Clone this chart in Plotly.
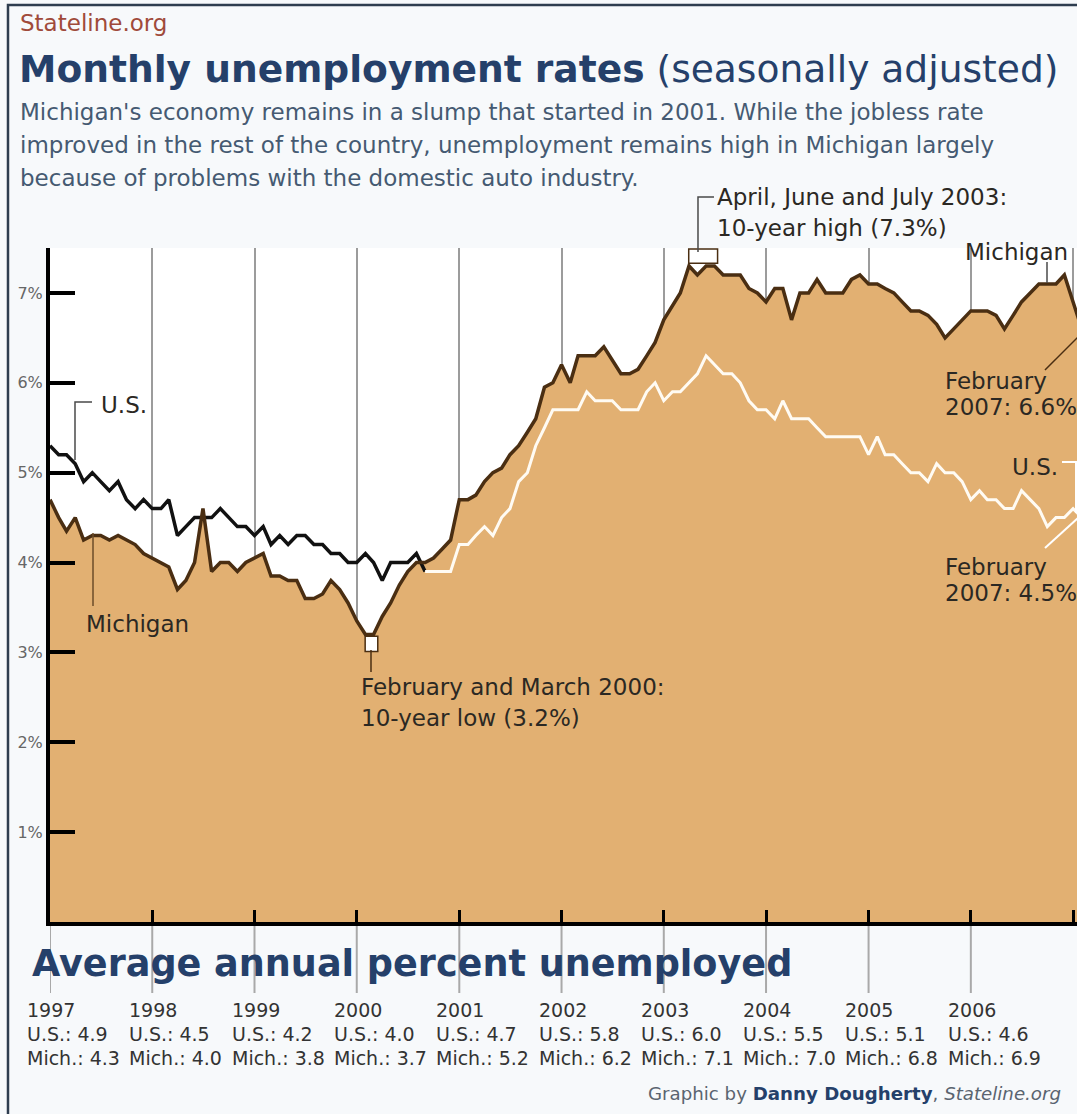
import pandas as pd
import plotly.graph_objects as go

# ---------------- data ----------------
months = pd.date_range("1997-01-01", "2007-02-01", freq="MS")

us_rate = [
    5.3, 5.2, 5.2, 5.1, 4.9, 5.0, 4.9, 4.8, 4.9, 4.7, 4.6, 4.7,   # 1997
    4.6, 4.6, 4.7, 4.3, 4.4, 4.5, 4.5, 4.5, 4.6, 4.5, 4.4, 4.4,   # 1998
    4.3, 4.4, 4.2, 4.3, 4.2, 4.3, 4.3, 4.2, 4.2, 4.1, 4.1, 4.0,   # 1999
    4.0, 4.1, 4.0, 3.8, 4.0, 4.0, 4.0, 4.1, 3.9, 3.9, 3.9, 3.9,   # 2000
    4.2, 4.2, 4.3, 4.4, 4.3, 4.5, 4.6, 4.9, 5.0, 5.3, 5.5, 5.7,   # 2001
    5.7, 5.7, 5.7, 5.9, 5.8, 5.8, 5.8, 5.7, 5.7, 5.7, 5.9, 6.0,   # 2002
    5.8, 5.9, 5.9, 6.0, 6.1, 6.3, 6.2, 6.1, 6.1, 6.0, 5.8, 5.7,   # 2003
    5.7, 5.6, 5.8, 5.6, 5.6, 5.6, 5.5, 5.4, 5.4, 5.4, 5.4, 5.4,   # 2004
    5.2, 5.4, 5.2, 5.2, 5.1, 5.0, 5.0, 4.9, 5.1, 5.0, 5.0, 4.9,   # 2005
    4.7, 4.8, 4.7, 4.7, 4.6, 4.6, 4.8, 4.7, 4.6, 4.4, 4.5, 4.5,   # 2006
    4.6, 4.5,                                                     # 2007
]

mich_rate = [
    4.7, 4.5, 4.35, 4.5, 4.25, 4.3, 4.3, 4.25, 4.3, 4.25, 4.2, 4.1,    # 1997
    4.05, 4.0, 3.95, 3.7, 3.8, 4.0, 4.6, 3.9, 4.0, 4.0, 3.9, 4.0,      # 1998
    4.05, 4.1, 3.85, 3.85, 3.8, 3.8, 3.6, 3.6, 3.65, 3.8, 3.7, 3.55,   # 1999
    3.35, 3.2, 3.2, 3.4, 3.55, 3.75, 3.9, 4.0, 4.0, 4.05, 4.15, 4.25,  # 2000
    4.7, 4.7, 4.75, 4.9, 5.0, 5.05, 5.2, 5.3, 5.45, 5.6, 5.95, 6.0,    # 2001
    6.2, 6.0, 6.3, 6.3, 6.3, 6.4, 6.25, 6.1, 6.1, 6.15, 6.3, 6.45,     # 2002
    6.7, 6.85, 7.0, 7.3, 7.2, 7.3, 7.3, 7.2, 7.2, 7.2, 7.05, 7.0,      # 2003
    6.9, 7.05, 7.05, 6.7, 7.0, 7.0, 7.15, 7.0, 7.0, 7.0, 7.15, 7.2,    # 2004
    7.1, 7.1, 7.05, 7.0, 6.9, 6.8, 6.8, 6.75, 6.65, 6.5, 6.6, 6.7,     # 2005
    6.8, 6.8, 6.8, 6.75, 6.6, 6.75, 6.9, 7.0, 7.1, 7.1, 7.1, 7.2,      # 2006
    6.9, 6.6,                                                          # 2007
]

avg_years = [1997, 1998, 1999, 2000, 2001, 2002, 2003, 2004, 2005, 2006]
avg_us = [4.9, 4.5, 4.2, 4.0, 4.7, 5.8, 6.0, 5.5, 5.1, 4.6]
avg_mich = [4.3, 4.0, 3.8, 3.7, 5.2, 6.2, 7.1, 7.0, 6.8, 6.9]

y_ticks = [1, 2, 3, 4, 5, 6, 7]
y_tick_text = [f"{v}%" for v in y_ticks]

# ---------------- style / layout helpers ----------------
FONT = "DejaVu Sans"
W, H = 1077, 1114
L, R, T, B = 50, 0, 248, 192
PW, PH = W - L - R, H - T - B

TAN = "#e2b072"
BROWN = "#4a2e12"
NAVY = "#25406a"
TXT = "#2b2823"
LBL = 23


def px(x):
    return (x - L) / PW


def py(y):
    return (H - B - y) / PH


# US line is black above the Michigan area and white once it runs inside it
k = next(i for i in range(len(us_rate))
         if all(u < m for u, m in zip(us_rate[i:], mich_rate[i:])))
us_black = [u if i <= k else None for i, u in enumerate(us_rate)]
us_white = [u if i >= k else None for i, u in enumerate(us_rate)]

fig = go.Figure()
fig.add_trace(go.Scatter(x=months, y=mich_rate, mode="lines", fill="tozeroy",
                         fillcolor=TAN, line=dict(width=0), hoverinfo="skip",
                         showlegend=False))
fig.add_trace(go.Scatter(x=months, y=us_black, mode="lines",
                         line=dict(color="#111111", width=3.5),
                         showlegend=False, name="U.S."))
fig.add_trace(go.Scatter(x=months, y=us_white, mode="lines",
                         line=dict(color="#fffbf3", width=3),
                         showlegend=False, name="U.S."))
fig.add_trace(go.Scatter(x=months, y=mich_rate, mode="lines",
                         line=dict(color=BROWN, width=3.5),
                         showlegend=False, name="Michigan"))

shapes = []
# grey year lines below the axis
for yr in avg_years:
    d = f"{yr}-01-01"
    shapes.append(dict(type="line", xref="x", yref="paper", x0=d, x1=d,
                       y0=py(926), y1=py(993),
                       line=dict(color="#a9a9a9", width=2), layer="below"))

# box around the 10-year low
lo = min(mich_rate)
lo_idx = [i for i, v in enumerate(mich_rate) if v == lo]
shapes.append(dict(type="rect", xref="x", yref="y",
                   x0=months[lo_idx[0]] - pd.Timedelta(days=1),
                   x1=months[lo_idx[-1]] + pd.Timedelta(days=15),
                   y0=lo - 0.19, y1=lo - 0.02,
                   fillcolor="white", line=dict(color=BROWN, width=1.5),
                   layer="above"))
# box around the 10-year high
hi = max(mich_rate)
hi_idx = [i for i, v in enumerate(mich_rate) if v == hi]
shapes.append(dict(type="rect", xref="x", yref="y",
                   x0=months[hi_idx[0]] - pd.Timedelta(days=1),
                   x1=months[hi_idx[-1]] + pd.Timedelta(days=11),
                   y0=hi + 0.03, y1=hi + 0.19,
                   fillcolor="white", line=dict(color=BROWN, width=1.5),
                   layer="above"))


def path(points, color, width=1.5):
    d = "M " + " L ".join(f"{px(a):.5f},{py(b):.5f}" for a, b in points)
    return dict(type="path", xref="paper", yref="paper", path=d,
                line=dict(color=color, width=width), layer="above")


shapes += [
    path([(92, 402), (75, 402), (75, 460)], "#4a4a4a"),          # U.S. left
    path([(93, 533), (93, 606)], "#6b4d2a"),                     # Michigan left
    path([(371, 650), (371, 672)], BROWN),                       # low leader
    path([(714, 197), (698, 197), (698, 252)], "#4a4a4a"),       # high bracket
    path([(1047, 262), (1047, 283)], "#4a4a4a"),                 # Michigan right
    path([(1045, 370), (1078, 337)], BROWN),                     # Feb 6.6 leader
    path([(1062, 462), (1076, 462), (1076, 513)], "white", 2),   # U.S. right
    path([(1045, 548), (1078, 518)], "white", 2),                # Feb 4.5 leader
    path([(8, 1120), (8, 5), (1085, 5)], "#2e3d4f", 2.5),        # frame
]


def note(x, y, text, size=LBL, color=TXT, **kw):
    return dict(xref="paper", yref="paper", x=px(x), y=py(y), text=text,
                showarrow=False, xanchor="left", yanchor="middle",
                font=dict(family=FONT, size=size, color=color), **kw)


annotations = [
    note(18, 23, "Stateline.org", 23, "#a04a3a"),
    note(17, 69, "<b>Monthly unemployment rates</b> (seasonally adjusted)",
         37.6, NAVY),
    note(18, 112, "Michigan's economy remains in a slump that started in 2001. "
                  "While the jobless rate", 23, "#455a72"),
    note(18, 145, "improved in the rest of the country, unemployment remains "
                  "high in Michigan largely", 23, "#455a72"),
    note(18, 178, "because of problems with the domestic auto industry.",
         23, "#455a72"),
    note(99, 405, "U.S."),
    note(84, 624, "Michigan"),
    note(359, 687, "February and March 2000:"),
    note(359, 718, "10-year low (3.2%)"),
    note(715, 197, "April, June and July 2003:"),
    note(715, 228, "10-year high (7.3%)"),
    note(963, 252, "Michigan"),
    note(943, 381, "February"),
    note(943, 407, "2007: 6.6%"),
    note(1010, 467, "U.S."),
    note(943, 567, "February"),
    note(943, 593, "2007: 4.5%"),
    note(30, 963, "<b>Average annual percent unemployed</b>", 36.6, NAVY),
    note(646, 1093,
         'Graphic by <b><span style="color:#25406a">Danny Dougherty</span></b>, '
         '<i>Stateline.org</i>', 18.2, "#5a6470"),
]

for j, yr in enumerate(avg_years):
    x0 = 25 + 102.3 * j
    annotations.append(note(x0, 1010, f"{yr}", 19, "#333333"))
    annotations.append(note(x0, 1034, f"U.S.: {avg_us[j]:.1f}", 19, "#333333"))
    annotations.append(note(x0, 1058, f"Mich.: {avg_mich[j]:.1f}", 19, "#333333"))

fig.update_layout(
    width=W, height=H,
    margin=dict(l=L, r=R, t=T, b=B, pad=0),
    paper_bgcolor="#f7f9fb",
    plot_bgcolor="white",
    font=dict(family=FONT),
    showlegend=False,
    shapes=shapes,
    annotations=annotations,
    xaxis=dict(type="date", range=["1997-01-01", "2007-01-15"],
               dtick="M12", tick0="1997-01-01",
               showgrid=True, gridcolor="#9c9c9c", gridwidth=2,
               ticks="inside", ticklen=12, tickwidth=3, tickcolor="black",
               showticklabels=False, showline=True, linecolor="black",
               linewidth=4, zeroline=False, fixedrange=True),
    yaxis=dict(range=[0, 7.5], tickmode="array", tickvals=y_ticks,
               ticktext=y_tick_text,
               ticks="inside", ticklen=25, tickwidth=4, tickcolor="black",
               showline=True, linecolor="black", linewidth=4,
               showgrid=False, zeroline=False,
               tickfont=dict(family=FONT, size=16, color="#666666"),
               fixedrange=True),
)

fig.write_html(
    "out.html",
    config={"displayModeBar": False},
    post_script="document.body.style.margin='0';"
                "document.body.style.overflow='hidden';",
)
